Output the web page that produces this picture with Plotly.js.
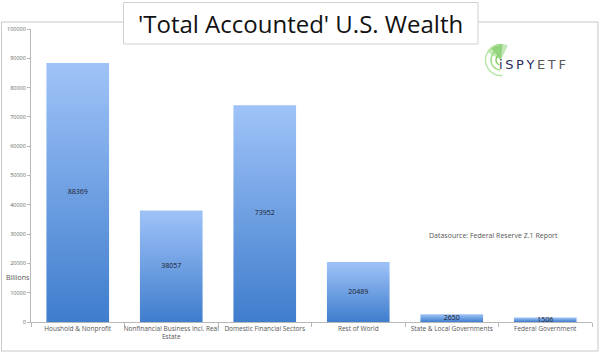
<!DOCTYPE html>
<html>
<head>
<meta charset="utf-8">
<script src="https://cdn.plot.ly/plotly-3.0.1.min.js"></script>
<style>html,body{margin:0;padding:0;background:#fff;}#chart{width:600px;height:354px;}</style>
</head>
<body>
<div id="chart"></div>
<script>
const categories = ["Houshold & Nonprofit", "Nonfinancial Business Incl. Real<br>Estate", "Domestic Financial Sectors", "Rest of World", "State & Local Governments", "Federal Government"];
const wealthValues = [88369, 38057, 73952, 20489, 2650, 1506];
const yTickValues = [0, 10000, 20000, 30000, 40000, 50000, 60000, 70000, 80000, 90000, 100000];

const W = 600, H = 354, L = 31, R = 8, T = 29, B = 32;
const pw = W - L - R, ph = H - T - B;
const px = x => (x - L) / pw;
const py = y => (H - B - y) / ph;

const FONT = "Open Sans, Liberation Sans, sans-serif";

const barTrace = {
  type: "bar",
  x: categories,
  y: wealthValues,
  width: 0.67,
  marker: {color: "#6a9de6", line: {width: 0}},
  hoverinfo: "none",
  textposition: "none"
};
const labelTrace = {
  type: "scatter",
  mode: "text",
  x: categories,
  y: wealthValues.map(v => v / 2),
  text: wealthValues.map(String),
  textfont: {family: FONT, size: 7, color: "#1a1a2a"},
  hoverinfo: "none"
};

// logo arcs as polylines in paper coordinates (pixel centre cx, cy)
const logoCx = 501, logoCy = 60;
const arcPath = (r, a0, a1, closeToCentre) => {
  const pts = [];
  for (let a = a0; a <= a1 + 0.01; a += 5) {
    const rad = a * Math.PI / 180;
    pts.push([px(logoCx + r * Math.cos(rad)), py(logoCy - r * Math.sin(rad))]);
  }
  let d = "M" + pts.map(p => p[0].toFixed(5) + "," + p[1].toFixed(5)).join(" L");
  if (closeToCentre) d += " L" + px(logoCx).toFixed(5) + "," + py(logoCy).toFixed(5) + " Z";
  return d;
};
const logoShape = (path, w, c, fill) => ({
  type: "path", xref: "paper", yref: "paper", path: path,
  line: {color: c, width: w}, fillcolor: fill || "rgba(0,0,0,0)", layer: "above"
});

const layout = {
  width: W, height: H,
  margin: {l: L, r: R, t: T, b: B, pad: 0},
  paper_bgcolor: "#fff", plot_bgcolor: "rgba(0,0,0,0)",
  showlegend: false,
  xaxis: {
    type: "category", range: [-0.5, 5.5],
    showline: true, linecolor: "#b8b8b8", linewidth: 1,
    ticks: "outside", tickson: "boundaries", ticklen: 4, tickcolor: "#b8b8b8",
    tickangle: 0,
    showgrid: false, zeroline: false,
    tickfont: {family: FONT, size: 6.5, color: "#555"},
    fixedrange: true
  },
  yaxis: {
    range: [0, 100000], tickvals: yTickValues, ticktext: yTickValues.map(String),
    showline: true, linecolor: "#b8b8b8", linewidth: 1,
    ticks: "outside", ticklen: 3, tickcolor: "#b8b8b8",
    showgrid: false, zeroline: false,
    tickfont: {family: FONT, size: 5.5, color: "#666"},
    fixedrange: true
  },
  shapes: [
    {type: "rect", xref: "paper", yref: "paper", x0: px(1.5), x1: px(598), y0: py(351), y1: py(22),
     line: {color: "#c8c8c8", width: 1}, fillcolor: "rgba(0,0,0,0)", layer: "below"},
    {type: "rect", xref: "paper", yref: "paper", x0: px(123.5), x1: px(478), y0: py(44), y1: py(2.5),
     line: {color: "#d0d0d0", width: 1}, fillcolor: "#fff", layer: "above"},
    logoShape(arcPath(16, 65, 150, true), 0, "#7fd060", "rgba(120,205,90,0.45)"),
    logoShape(arcPath(16, 85, 130, true), 0, "#6cc04a", "rgba(100,190,70,0.5)"),
    logoShape(arcPath(5, 110, 250), 1.4, "#7fd060"),
    logoShape(arcPath(10, 100, 265), 1.4, "#95da7c"),
    logoShape(arcPath(15.5, 95, 275), 1.4, "#b5e6a2")
  ],
  annotations: [
    {xref: "paper", yref: "paper", x: px(300), y: py(23.5), xanchor: "center", yanchor: "middle",
     text: "'Total Accounted' U.S. Wealth", showarrow: false,
     font: {family: FONT, size: 24, color: "#111"}},
    {xref: "paper", yref: "paper", x: px(497), y: py(64), xanchor: "left", yanchor: "middle",
     text: "<span style='color:#2b2d5c'>i\u2009S\u2009P\u2009Y</span>\u2009<span style='color:#5a5a5a'>E\u2009T\u2009F</span>", showarrow: false,
     font: {family: "DejaVu Sans, Verdana, sans-serif", size: 13, color: "#2b2d5c"}},
    {xref: "paper", yref: "paper", x: px(427), y: py(235), xanchor: "left", yanchor: "middle",
     text: "Datasource: Federal Reserve Z.1 Report", showarrow: false,
     font: {family: FONT, size: 7, color: "#555"}},
    {xref: "paper", yref: "paper", x: px(4), y: py(277), xanchor: "left", yanchor: "middle",
     text: "Billions", showarrow: false,
     font: {family: FONT, size: 7, color: "#555"}}
  ]
};

Plotly.newPlot("chart", [barTrace, labelTrace], layout, {displayModeBar: false, staticPlot: true}).then(gd => {
  const svg = gd.querySelector("svg.main-svg");
  const ns = "http://www.w3.org/2000/svg";
  let defs = svg.querySelector("defs");
  if (!defs) { defs = document.createElementNS(ns, "defs"); svg.insertBefore(defs, svg.firstChild); }
  const grad = document.createElementNS(ns, "linearGradient");
  grad.setAttribute("id", "barGrad");
  grad.setAttribute("x1", "0"); grad.setAttribute("y1", "0");
  grad.setAttribute("x2", "0"); grad.setAttribute("y2", "1");
  [["0", "#9fc3f8"], ["1", "#3f7dcd"]].forEach(([o, c]) => {
    const s = document.createElementNS(ns, "stop");
    s.setAttribute("offset", o); s.setAttribute("stop-color", c);
    grad.appendChild(s);
  });
  defs.appendChild(grad);
  gd.querySelectorAll(".barlayer .point path").forEach(p => { p.style.fill = "url(#barGrad)"; });
});
</script>
</body>
</html>
